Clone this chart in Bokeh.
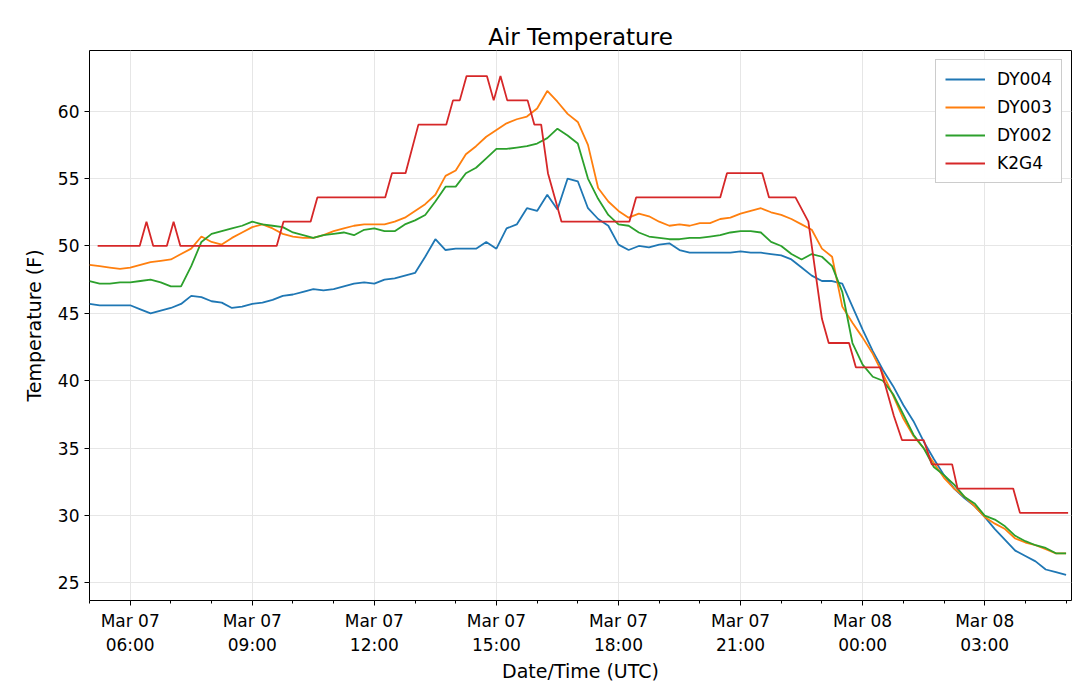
from datetime import datetime, timedelta
from bokeh.plotting import figure
from bokeh.models import FixedTicker, Range1d, Legend, LegendItem
from bokeh.embed import file_html
from bokeh.resources import INLINE

start = datetime(2021, 3, 7, 5, 0)
times = [start + timedelta(minutes=15 * i) for i in range(97)]

dy004 = [45.7, 45.6, 45.6, 45.6, 45.6, 45.3, 45.0, 45.2, 45.4, 45.7, 46.3, 46.2, 45.9, 45.8, 45.4, 45.5,
         45.7, 45.8, 46.0, 46.3, 46.4, 46.6, 46.8, 46.7, 46.8, 47.0, 47.2, 47.3, 47.2, 47.5, 47.6, 47.8,
         48.0, 49.2, 50.5, 49.7, 49.8, 49.8, 49.8, 50.3, 49.8, 51.3, 51.6, 52.8, 52.6, 53.8, 52.7, 55.0,
         54.8, 52.8, 52.0, 51.5, 50.1, 49.7, 50.0, 49.9, 50.1, 50.2, 49.7, 49.5, 49.5, 49.5, 49.5, 49.5,
         49.6, 49.5, 49.5, 49.4, 49.3, 49.0, 48.4, 47.8, 47.4, 47.4, 47.2, 45.5, 43.8, 42.2, 40.8, 39.6,
         38.2, 37.0, 35.5, 34.2, 33.0, 32.0, 31.3, 30.7, 29.9, 29.0, 28.2, 27.4, 27.0, 26.6, 26.0, 25.8, 25.6]
dy003 = [48.6, 48.5, 48.4, 48.3, 48.4, 48.6, 48.8, 48.9, 49.0, 49.4, 49.8, 50.7, 50.3, 50.1, 50.6, 51.0,
         51.4, 51.6, 51.3, 50.9, 50.7, 50.6, 50.6, 50.8, 51.1, 51.3, 51.5, 51.6, 51.6, 51.6, 51.8, 52.1,
         52.6, 53.1, 53.8, 55.2, 55.6, 56.8, 57.4, 58.1, 58.6, 59.1, 59.4, 59.6, 60.2, 61.5, 60.7, 59.8,
         59.2, 57.5, 54.3, 53.3, 52.6, 52.1, 52.4, 52.2, 51.8, 51.5, 51.6, 51.5, 51.7, 51.7, 52.0, 52.1,
         52.4, 52.6, 52.8, 52.5, 52.3, 52.0, 51.6, 51.2, 49.8, 49.2, 45.5, 44.3, 43.2, 42.0, 40.5, 38.9,
         37.2, 35.9, 35.0, 33.9, 32.8, 32.0, 31.4, 30.7, 29.9, 29.4, 29.0, 28.3, 28.0, 27.8, 27.5, 27.2, 27.2]
dy002 = [47.4, 47.2, 47.2, 47.3, 47.3, 47.4, 47.5, 47.3, 47.0, 47.0, 48.5, 50.3, 50.9, 51.1, 51.3, 51.5,
         51.8, 51.6, 51.5, 51.4, 51.0, 50.8, 50.6, 50.8, 50.9, 51.0, 50.8, 51.2, 51.3, 51.1, 51.1, 51.6,
         51.9, 52.3, 53.3, 54.4, 54.4, 55.4, 55.8, 56.5, 57.2, 57.2, 57.3, 57.4, 57.6, 58.0, 58.7, 58.2,
         57.6, 55.0, 53.5, 52.3, 51.6, 51.5, 51.0, 50.7, 50.6, 50.5, 50.5, 50.6, 50.6, 50.7, 50.8, 51.0,
         51.1, 51.1, 51.0, 50.3, 50.0, 49.4, 49.0, 49.4, 49.2, 48.5, 46.6, 42.8, 41.2, 40.3, 40.0, 39.0,
         37.5, 36.0, 35.0, 33.6, 33.0, 32.3, 31.4, 30.9, 30.0, 29.7, 29.2, 28.5, 28.1, 27.8, 27.6, 27.2, 27.2]

k2g4_times = ["03-07 05:12", "03-07 06:14", "03-07 06:24", "03-07 06:34", "03-07 06:54", "03-07 07:04",
              "03-07 07:14", "03-07 09:36", "03-07 09:46", "03-07 10:26", "03-07 10:36", "03-07 12:16",
              "03-07 12:26", "03-07 12:46", "03-07 13:05", "03-07 13:46", "03-07 13:56", "03-07 14:06",
              "03-07 14:16", "03-07 14:46", "03-07 14:56", "03-07 15:06", "03-07 15:16", "03-07 15:46",
              "03-07 15:56", "03-07 16:06", "03-07 16:16", "03-07 16:26", "03-07 16:36", "03-07 18:16",
              "03-07 18:26", "03-07 20:30", "03-07 20:40", "03-07 21:32", "03-07 21:42", "03-07 22:21",
              "03-07 22:40", "03-07 23:00", "03-07 23:10", "03-07 23:40", "03-07 23:50", "03-08 00:26",
              "03-08 00:36", "03-08 00:46", "03-08 00:58", "03-08 01:30", "03-08 01:42", "03-08 02:12",
              "03-08 02:20", "03-08 03:42", "03-08 03:52", "03-08 05:03"]
k2g4 = [50.0, 50.0, 51.8, 50.0, 50.0, 51.8, 50.0, 50.0, 51.8, 51.8, 53.6, 53.6,
        55.4, 55.4, 59.0, 59.0, 60.8, 60.8, 62.6, 62.6, 60.8, 62.6, 60.8, 60.8,
        59.0, 59.0, 55.4, 53.6, 51.8, 51.8, 53.6, 53.6, 55.4, 55.4, 53.6, 53.6,
        51.8, 44.6, 42.8, 42.8, 41.0, 41.0, 39.2, 37.4, 35.6, 35.6, 33.8, 33.8,
        32.0, 32.0, 30.2, 30.2]
k2g4_dt = [datetime.strptime("2021-" + s, "%Y-%m-%d %H:%M") for s in k2g4_times]

tick_hours = [6, 9, 12, 15, 18, 21, 24, 27]
tick_labels = ["Mar 07\n06:00", "Mar 07\n09:00", "Mar 07\n12:00", "Mar 07\n15:00",
               "Mar 07\n18:00", "Mar 07\n21:00", "Mar 08\n00:00", "Mar 08\n03:00"]

def ms(d):
    return (d - datetime(1970, 1, 1)).total_seconds() * 1000

base = datetime(2021, 3, 7)
major = [ms(base + timedelta(hours=h)) for h in tick_hours]
minor = [ms(base + timedelta(hours=h)) for h in range(5, 30)]

p = figure(width=1072, height=685, x_axis_type="datetime", output_backend="svg",
           toolbar_location=None, title="Air Temperature",
           min_border_left=89, min_border_right=1, min_border_top=50, min_border_bottom=85)
p.x_range = Range1d(ms(start), ms(start + timedelta(hours=24, minutes=8)))
p.y_range = Range1d(23.7, 64.5)
p.title.text_font = "DejaVu Sans"
p.title.text_font_style = "normal"
p.title.text_color = "black"
p.title.align = "center"
p.title.text_font_size = "23px"
p.title.standoff = 2

colors = ["#1f77b4", "#ff7f0e", "#2ca02c", "#d62728"]
r1 = p.line(times, dy004, color=colors[0], line_width=1.8)
r2 = p.line(times, dy003, color=colors[1], line_width=1.8)
r3 = p.line(times, dy002, color=colors[2], line_width=1.8)
r4 = p.line(k2g4_dt, k2g4, color=colors[3], line_width=1.8)

p.xaxis.ticker = FixedTicker(ticks=major, minor_ticks=minor)
p.xaxis.major_label_overrides = {m: l for m, l in zip(major, tick_labels)}
p.yaxis.ticker = FixedTicker(ticks=[25, 30, 35, 40, 45, 50, 55, 60])
p.xaxis.axis_label = "Date/Time (UTC)"
p.yaxis.axis_label = "Temperature (F)"
for ax in (p.xaxis, p.yaxis):
    ax.axis_label_text_font = "DejaVu Sans"
    ax.axis_label_text_font_size = "19px"
    ax.axis_label_text_font_style = "normal"
    ax.axis_label_text_color = "black"
    ax.major_label_text_font = "DejaVu Sans"
    ax.major_label_text_font_size = "17px"
    ax.major_label_text_color = "black"
    ax.axis_line_color = None
    ax.major_tick_line_color = "black"
    ax.minor_tick_line_color = "black"
    ax.major_tick_out = 5
    ax.major_tick_in = 0
    ax.minor_tick_out = 3
    ax.minor_tick_in = 0
p.yaxis.minor_tick_line_color = None
p.xaxis.axis_label_standoff = 2
p.yaxis.axis_label_standoff = 10
p.grid.grid_line_color = "#e6e6e6"
p.outline_line_color = "black"
p.outline_line_width = 1

legend = Legend(items=[LegendItem(label="DY004", renderers=[r1]),
                       LegendItem(label="DY003", renderers=[r2]),
                       LegendItem(label="DY002", renderers=[r3]),
                       LegendItem(label="K2G4", renderers=[r4])],
                location="top_right", label_text_font="DejaVu Sans", label_text_font_size="17px",
                label_text_color="black",
                border_line_color="#cccccc", border_line_alpha=1, glyph_width=40,
                spacing=8, padding=9, margin=9, label_standoff=12)
p.add_layout(legend)

open("out.html", "w").write(file_html(p, INLINE))
